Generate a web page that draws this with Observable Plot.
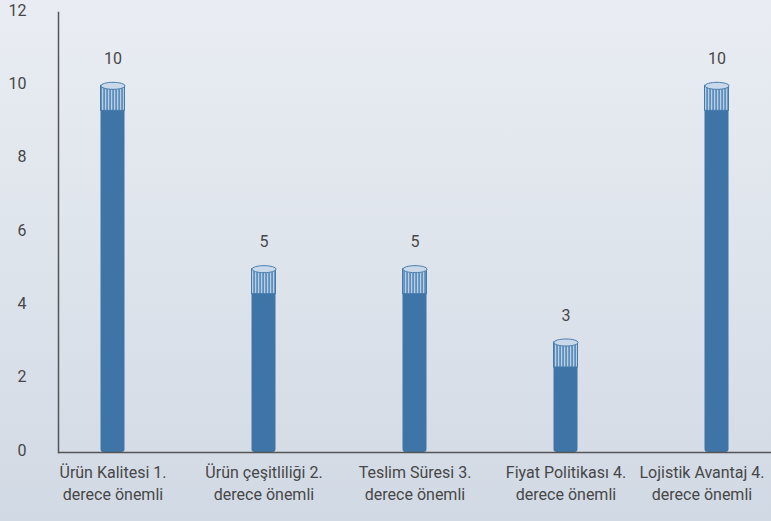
<!DOCTYPE html>
<html>
<head>
<meta charset="utf-8">
<script src="https://cdn.jsdelivr.net/npm/d3@7"></script>
<script src="https://cdn.jsdelivr.net/npm/@observablehq/plot@0.6"></script>
<style>
  html, body { margin: 0; padding: 0; width: 771px; height: 521px; overflow: hidden; }
  body { background: linear-gradient(to bottom, #e9edf3 0%, #dde3eb 55%, #d1d9e4 100%); }
  #chart svg { display: block; }
</style>
</head>
<body>
<div id="chart"></div>
<script>
const categories = [
  "Ürün Kalitesi 1. derece önemli",
  "Ürün çeşitliliği 2. derece önemli",
  "Teslim Süresi 3. derece önemli",
  "Fiyat Politikası 4. derece önemli",
  "Lojistik Avantaj 4. derece önemli"
];
const values = [10, 5, 5, 3, 10];
const yTicks = [0, 2, 4, 6, 8, 10, 12];

const data = categories.map((c, i) => ({category: c, value: values[i]}));

const barColor = "#3e75a6";
const textColor = "#474747";
const fmt = (d) => d.replace(" derece", "\nderece");

const ellipse = {
  draw(ctx) {
    const rx = 12, ry = 3.5, k = 0.5523;
    ctx.moveTo(rx, 0);
    ctx.bezierCurveTo(rx, ry * k, rx * k, ry, 0, ry);
    ctx.bezierCurveTo(-rx * k, ry, -rx, ry * k, -rx, 0);
    ctx.bezierCurveTo(-rx, -ry * k, -rx * k, -ry, 0, -ry);
    ctx.bezierCurveTo(rx * k, -ry, rx, -ry * k, rx, 0);
    ctx.closePath();
  }
};

const xAxisOpts = {tickSize: 0, tickPadding: 10, tickFormat: fmt, lineHeight: 1.38, fontSize: 16, fill: textColor, label: null};

const chart = Plot.plot({
  width: 771,
  height: 521,
  marginLeft: 58,
  marginRight: 0,
  marginTop: 12,
  marginBottom: 69,
  style: {background: "transparent", fontFamily: "Roboto, sans-serif", fontSize: "16px", color: textColor},
  x: {domain: categories, paddingInner: 0.29, paddingOuter: 0, label: null, axis: null},
  y: {domain: [0, 12], label: null, axis: null},
  marks: [
    Plot.axisY(yTicks, {tickSize: 0, tickPadding: 32, fontSize: 16, fill: textColor, label: null, dy: -2}),
    Plot.axisX(categories.slice(0, 4), xAxisOpts),
    Plot.axisX(categories.slice(4), {...xAxisOpts, dx: -15}),
    Plot.barY(data, {x: "category", y: "value", fill: barColor, insetLeft: 41.5, insetRight: 41.5, rx: 3}),
    Plot.barY(data, {x: "category", y1: "value", y2: "value", insetLeft: 41.5, insetRight: 41.5, insetBottom: -25,
      fill: "url(#hatch)", stroke: "#4579aa", strokeWidth: 1}),
    Plot.dot(data, {x: "category", y: "value", symbol: ellipse, r: 5, fill: "#c9d9e9", stroke: "#4a7eae", strokeWidth: 1}),
    Plot.text(data, {x: "category", y: "value", text: (d) => String(d.value), dy: -27, fontSize: 16, fill: textColor}),
    Plot.ruleY([0], {stroke: "#555", strokeWidth: 1.5}),
    Plot.frame({anchor: "left", stroke: "#555", strokeWidth: 1.5})
  ]
});

d3.select(chart).insert("defs", ":first-child").html(
  `<pattern id="hatch" width="3" height="6" patternUnits="userSpaceOnUse">
     <rect width="3" height="6" fill="#5f8fbd"/>
     <rect x="0" width="1.2" height="6" fill="#b9cfe4"/>
   </pattern>`
);

document.getElementById("chart").appendChild(chart);
</script>
</body>
</html>
